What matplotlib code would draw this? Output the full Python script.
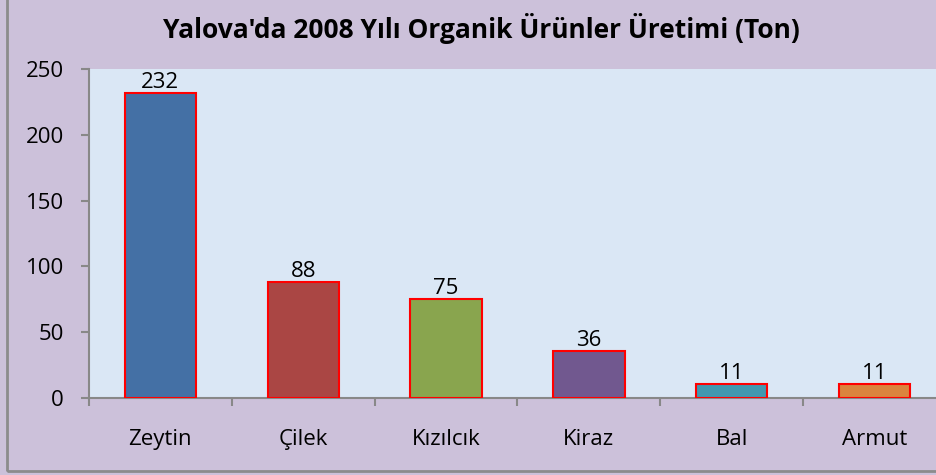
import matplotlib.pyplot as plt
from matplotlib.patches import Rectangle

# Data
urunler = ['Zeytin', 'Çilek', 'Kızılcık', 'Kiraz', 'Bal', 'Armut']
uretim = [232, 88, 75, 36, 11, 11]
renkler = ['#4470a5', '#aa4644', '#89a54e', '#71588f', '#4198af', '#db843d']

plt.rcParams['font.family'] = ['Open Sans', 'DejaVu Sans']

fig = plt.figure(figsize=(9.37, 4.75), dpi=100, facecolor='#ccc1da')
ax = fig.add_axes([89 / 937, 77 / 475, 857 / 937, 329 / 475])
ax.set_facecolor('#dae7f5')

x = range(len(urunler))
bars = ax.bar(x, uretim, width=0.5, color=renkler, edgecolor='#ff0000', linewidth=1.5, zorder=3)

for xi, v in zip(x, uretim):
    ax.annotate(str(v), (xi, v), xytext=(0, 0), textcoords='offset points',
                ha='center', va='bottom', fontsize=16, color='black', zorder=4)

ax.set_xlim(-0.5, len(urunler) - 0.5)
ax.set_ylim(0, 250)
ax.set_yticks(range(0, 251, 50))
ax.tick_params(axis='y', labelsize=16, length=6, width=1.5, color='#888888', pad=12)

ax.set_xticks(list(x))
ax.set_xticklabels(urunler)
ax.set_xticks([i - 0.5 for i in range(len(urunler) + 1)], minor=True)
ax.tick_params(axis='x', which='major', length=0, labelsize=16, pad=22)
ax.tick_params(axis='x', which='minor', length=6, width=1.5, color='#888888')

for s in ['top', 'right']:
    ax.spines[s].set_visible(False)
for s in ['left', 'bottom']:
    ax.spines[s].set_color('#888888')
    ax.spines[s].set_linewidth(1.5)

fig.text(481 / 937, 1 - 38 / 475, "Yalova'da 2008 Yılı Organik Ürünler Üretimi (Ton)",
         ha='center', va='baseline', fontsize=19, fontweight='bold')

# outer chart border
fig.patches.append(Rectangle((7 / 937, 4 / 475), 1.0, 1.0, transform=fig.transFigure,
                             fill=False, edgecolor='#8c8c8c', linewidth=2, clip_on=False))

fig.savefig('out.png', dpi=100, facecolor=fig.get_facecolor())
